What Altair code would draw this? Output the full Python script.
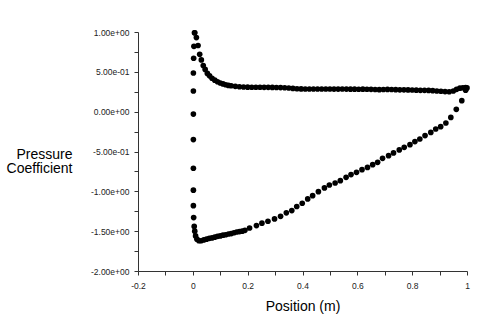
import altair as alt
import pandas as pd

# ---- data (position along chord in m, pressure coefficient) ----
upper_x = [0.007, 0.013, 0.019, 0.025, 0.031, 0.038, 0.045, 0.053, 0.061, 0.070,
           0.080, 0.090, 0.100, 0.110, 0.120, 0.130, 0.140, 0.155, 0.170, 0.185,
           0.200, 0.215, 0.230, 0.245, 0.260, 0.275, 0.290, 0.305, 0.320, 0.335,
           0.350, 0.365, 0.380, 0.395, 0.410, 0.425, 0.440, 0.455, 0.470, 0.485,
           0.500, 0.515, 0.530, 0.545, 0.560, 0.575, 0.590, 0.605, 0.620, 0.635,
           0.650, 0.665, 0.680, 0.695, 0.710, 0.725, 0.740, 0.755, 0.770, 0.785,
           0.800, 0.815, 0.830, 0.845, 0.860, 0.875, 0.890, 0.905, 0.920, 0.935,
           0.950, 0.962, 0.974, 0.985, 0.995, 1.000]
upper_cp = [0.99, 0.93, 0.83, 0.72, 0.65, 0.58, 0.53, 0.48, 0.45, 0.42,
            0.395, 0.375, 0.36, 0.348, 0.338, 0.33, 0.325, 0.318, 0.313, 0.31,
            0.308, 0.307, 0.306, 0.306, 0.305, 0.305, 0.304, 0.303, 0.302, 0.300,
            0.297, 0.292, 0.288, 0.286, 0.285, 0.285, 0.284, 0.284, 0.285, 0.284,
            0.284, 0.283, 0.283, 0.284, 0.283, 0.282, 0.282, 0.281, 0.282, 0.281,
            0.280, 0.278, 0.276, 0.278, 0.279, 0.278, 0.276, 0.274, 0.274, 0.273,
            0.272, 0.270, 0.268, 0.268, 0.267, 0.264, 0.260, 0.256, 0.252, 0.250,
            0.260, 0.280, 0.295, 0.300, 0.302, 0.298]

lower_x = [0.006, 0.004, 0.003, 0.002, 0.002, 0.002, 0.002, 0.002, 0.002, 0.002,
           0.003, 0.005, 0.007, 0.010, 0.015, 0.022, 0.030, 0.040, 0.050, 0.060,
           0.070, 0.080, 0.090, 0.100, 0.110, 0.120, 0.130, 0.140, 0.150, 0.160,
           0.170, 0.180, 0.190, 0.207, 0.232, 0.252, 0.274, 0.298, 0.320, 0.341,
           0.361, 0.379, 0.399, 0.419, 0.437, 0.458, 0.480, 0.498, 0.519, 0.538,
           0.559, 0.577, 0.597, 0.617, 0.637, 0.656, 0.674, 0.692, 0.714, 0.732,
           0.753, 0.771, 0.792, 0.810, 0.828, 0.847, 0.868, 0.886, 0.904, 0.923,
           0.941, 0.961, 0.981, 0.995]
lower_cp = [0.99, 0.82, 0.67, 0.485, 0.26, -0.03, -0.35, -0.71, -0.985, -1.18,
            -1.33, -1.44, -1.50, -1.56, -1.60, -1.62, -1.62, -1.61, -1.60, -1.59,
            -1.585, -1.575, -1.565, -1.56, -1.55, -1.545, -1.535, -1.53, -1.52, -1.51,
            -1.505, -1.50, -1.49, -1.46, -1.43, -1.40, -1.376, -1.346, -1.314, -1.27,
            -1.242, -1.19, -1.15, -1.095, -1.054, -1.004, -0.957, -0.92, -0.895, -0.866,
            -0.824, -0.79, -0.762, -0.728, -0.70, -0.665, -0.636, -0.586, -0.552, -0.518,
            -0.48, -0.448, -0.414, -0.376, -0.343, -0.30, -0.26, -0.217, -0.188, -0.142,
            -0.072, 0.029, 0.138, 0.27]

# ---- axis ticks and labels ----
x_major = [-0.2, 0.0, 0.2, 0.4, 0.6, 0.8, 1.0]
x_major_labels = ["-0.2", "0", "0.2", "0.4", "0.6", "0.8", "1"]
x_minor = [-0.1, 0.1, 0.3, 0.5, 0.7, 0.9]
y_major = [1.0, 0.5, 0.0, -0.5, -1.0, -1.5, -2.0]
y_major_labels = ["1.00e+00", "5.00e-01", "0.00e+00", "-5.00e-01",
                  "-1.00e+00", "-1.50e+00", "-2.00e+00"]
y_minor = [0.75, 0.25, -0.25, -0.75, -1.25, -1.75]


def label_expr(values, labels):
    expr = "''"
    for v, lab in reversed(list(zip(values, labels))):
        expr = f"abs(datum.value - ({v})) < 1e-6 ? '{lab}' : ({expr})"
    return expr


df = pd.concat([
    pd.DataFrame({"x": upper_x, "cp": upper_cp, "surface": "upper"}),
    pd.DataFrame({"x": lower_x, "cp": lower_cp, "surface": "lower"}),
], ignore_index=True)

FONT = "Liberation Sans"
axis_common = dict(
    grid=False,
    domainColor="#333333",
    tickColor="#333333",
    tickSize=4,
    labelFont=FONT,
    labelFontSize=8.5,
    labelColor="#222222",
    labelOverlap=False,
    labelFlush=False,
    titleFont=FONT,
    titleFontSize=14,
    titleFontWeight="normal",
    titleColor="#000000",
)

chart = alt.Chart(df).mark_circle(size=32, color="black", opacity=1).encode(
    x=alt.X(
        "x:Q",
        scale=alt.Scale(domain=[-0.2, 1.0], nice=False, zero=False),
        axis=alt.Axis(
            values=sorted(x_major + x_minor),
            labelExpr=label_expr(x_major, x_major_labels),
            title="Position (m)",
            labelPadding=6,
            titleBaseline="alphabetic",
            titleY=39,
            **axis_common,
        ),
    ),
    y=alt.Y(
        "cp:Q",
        scale=alt.Scale(domain=[-2.0, 1.0], nice=False, zero=False),
        axis=alt.Axis(
            values=sorted(y_major + y_minor),
            labelExpr=label_expr(y_major, y_major_labels),
            title=["Pressure", "Coefficient"],
            labelPadding=5,
            titleAngle=0,
            titleAlign="right",
            titleBaseline="alphabetic",
            titleX=-66,
            titleY=126,
            titleLineHeight=14,
            **axis_common,
        ),
    ),
).properties(
    width=329,
    height=239,
    autosize="none",
    padding={"left": 138, "top": 32, "right": 33, "bottom": 54},
).configure_view(stroke=None)

chart.save("out.html", embed_options={"renderer": "svg", "actions": False})
